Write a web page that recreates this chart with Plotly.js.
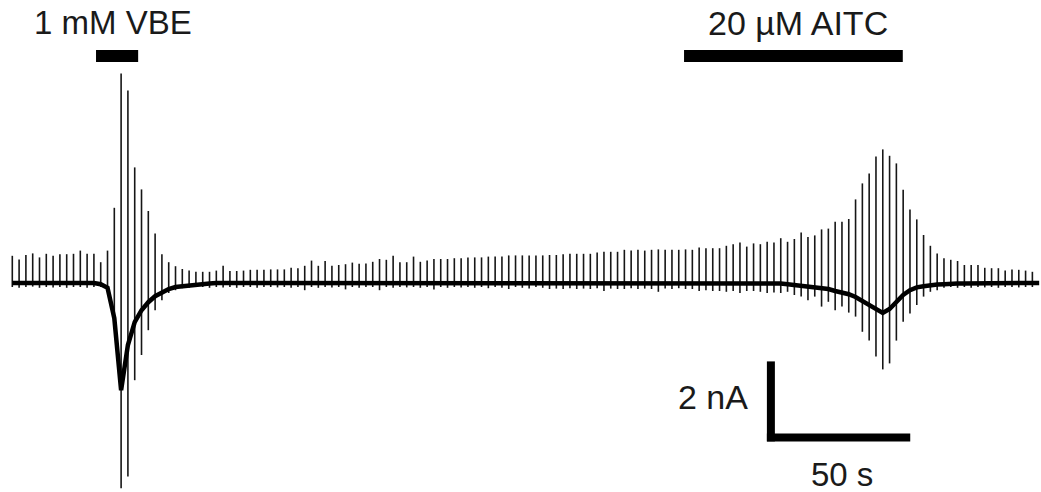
<!DOCTYPE html>
<html>
<head>
<meta charset="utf-8">
<script src="https://cdn.plot.ly/plotly-3.0.1.min.js"></script>
<style>html,body{margin:0;padding:0;background:#fff;}#chart{width:1041px;height:492px;}</style>
</head>
<body>
<div id="chart"></div>
<script>
// Recording: one voltage ramp every SWEEP_INTERVAL seconds (current in nA)
const SWEEP_INTERVAL = 2.372; // s

// Peak outward current of each ramp (nA)
const sweepTop = [
  0.68,0.59,0.70,0.74,0.64,0.73,0.68,0.72,0.72,0.73,
  0.81,0.73,0.73,0.52,0.81,1.88,5.24,4.81,2.89,2.34,
  1.80,1.24,0.72,0.52,0.42,0.35,0.31,0.28,0.28,0.28,
  0.31,0.43,0.30,0.30,0.31,0.33,0.33,0.33,0.34,0.34,
  0.34,0.38,0.37,0.43,0.56,0.43,0.55,0.43,0.45,0.47,
  0.51,0.48,0.49,0.53,0.60,0.58,0.68,0.52,0.52,0.66,
  0.53,0.56,0.60,0.60,0.60,0.62,0.62,0.64,0.64,0.64,
  0.66,0.66,0.66,0.69,0.69,0.69,0.69,0.69,0.69,0.70,
  0.70,0.72,0.73,0.73,0.73,0.73,0.76,0.78,0.78,0.78,
  0.83,0.81,0.83,0.81,0.83,0.84,0.83,0.83,0.83,0.84,
  0.83,0.89,0.87,0.87,0.87,0.93,0.97,1.01,0.91,0.99,
  0.97,1.03,1.01,1.12,1.03,1.10,1.26,1.15,1.19,1.34,
  1.36,1.53,1.53,1.60,2.09,2.49,2.74,3.16,3.34,3.18,
  2.99,2.33,1.84,1.59,1.20,0.93,0.74,0.62,0.58,0.55,
  0.45,0.45,0.45,0.38,0.37,0.37,0.31,0.34,0.33,0.31,
  0.28
];

// Peak inward current of each ramp (nA)
const sweepBottom = [
  -0.10,-0.12,-0.10,-0.09,-0.12,-0.10,-0.11,-0.10,-0.12,-0.10,
  -0.10,-0.12,-0.10,-0.10,-0.18,-1.00,-5.13,-4.84,-2.43,-1.80,
  -1.18,-0.68,-0.43,-0.25,-0.18,-0.13,-0.12,-0.10,-0.10,-0.12,
  -0.10,-0.11,-0.10,-0.12,-0.10,-0.10,-0.12,-0.10,-0.10,-0.11,
  -0.10,-0.12,-0.10,-0.18,-0.10,-0.12,-0.10,-0.11,-0.10,-0.16,
  -0.10,-0.12,-0.10,-0.10,-0.18,-0.10,-0.12,-0.10,-0.11,-0.10,
  -0.12,-0.10,-0.16,-0.10,-0.12,-0.10,-0.11,-0.10,-0.12,-0.10,
  -0.13,-0.10,-0.12,-0.15,-0.10,-0.12,-0.14,-0.10,-0.12,-0.15,
  -0.14,-0.15,-0.13,-0.15,-0.14,-0.15,-0.13,-0.20,-0.14,-0.15,
  -0.15,-0.13,-0.15,-0.14,-0.15,-0.22,-0.14,-0.15,-0.13,-0.15,
  -0.15,-0.20,-0.18,-0.20,-0.20,-0.22,-0.20,-0.25,-0.20,-0.20,
  -0.22,-0.25,-0.24,-0.25,-0.22,-0.30,-0.34,-0.43,-0.34,-0.59,
  -0.47,-0.68,-0.59,-0.74,-0.84,-1.22,-1.44,-1.84,-2.16,-2.01,
  -1.44,-0.97,-0.76,-0.55,-0.34,-0.22,-0.18,-0.12,-0.10,-0.12,
  -0.10,-0.12,-0.10,-0.11,-0.10,-0.12,-0.10,-0.10,-0.11,-0.10,
  -0.10
];

// Holding current between ramps (nA)
const holdingCurrent = [
  0,0,0,0,0,0,0,0,0,0,
  0,0,0,-0.03,-0.12,-0.88,-2.68,-1.55,-0.98,-0.68,
  -0.48,-0.33,-0.23,-0.15,-0.10,-0.08,-0.05,-0.03,-0.02,-0.01,
  0,0,0,0,0,0,0,0,0,0,
  0,0,0,0,0,0,0,0,0,0,
  0,0,0,0,0,0,0,0,0,0,
  0,0,0,0,0,0,0,0,0,0,
  0,0,0,0,0,0,0,0,0,0,
  0,0,0,0,0,0,0,0,0,0,
  0,0,0,0,0,0,0,0,0,0,
  0,0,0,0,0,0,0,0,0,0,
  0,0,0,-0.01,-0.03,-0.05,-0.06,-0.09,-0.10,-0.13,
  -0.15,-0.20,-0.24,-0.28,-0.35,-0.45,-0.55,-0.65,-0.75,-0.65,
  -0.48,-0.30,-0.18,-0.11,-0.08,-0.05,-0.04,-0.03,-0.01,-0.01,
  -0.01,-0.01,-0.01,-0.01,-0.01,-0.01,-0.01,-0.01,-0.01,-0.01,
  -0.01,0
];

// Drug applications (s)
const drugLabels = ["1 mM VBE", "20 µM AITC"];
const drugOn  = [29.2, 234.3];
const drugOff = [43.9, 310.6];

// Scale bar
const scaleTimeLabel = "50 s", scaleTime = 50;
const scaleCurrentLabel = "2 nA", scaleCurrent = 2;
const scaleOrigin = [263.2, -3.86];

// ---- build traces ----
const sweepX = [], sweepY = [];
sweepTop.forEach((top, k) => {
  const t = k * SWEEP_INTERVAL;
  sweepX.push(t, t, null);
  sweepY.push(sweepBottom[k], top, null);
});
const holdX = holdingCurrent.map((v, k) => k * SWEEP_INTERVAL);

const traces = [
  {x: sweepX, y: sweepY, mode: 'lines', type: 'scatter',
   line: {color: '#161616', width: 1.6}, hoverinfo: 'skip', connectgaps: false},
  {x: holdX, y: holdingCurrent, mode: 'lines', type: 'scatter',
   line: {color: '#000', width: 4.5}, hoverinfo: 'skip'}
];

const pxPerS = 2.867, pxPerNA = 40;
const barY = 5.675;
const shapes = [];
drugOn.forEach((on, i) => {
  shapes.push({type: 'line', xref: 'x', yref: 'y', x0: on, x1: drugOff[i], y0: barY, y1: barY,
               line: {color: '#000', width: 12}});
});
const [sx, sy] = scaleOrigin;
shapes.push({type: 'line', xref: 'x', yref: 'y', x0: sx, x1: sx + scaleTime, y0: sy, y1: sy,
             line: {color: '#000', width: 8}});
const vx = sx + 4 / pxPerS;
shapes.push({type: 'line', xref: 'x', yref: 'y', x0: vx, x1: vx, y0: sy - 4 / pxPerNA,
             y1: sy - 4 / pxPerNA + scaleCurrent, line: {color: '#000', width: 8}});

const font = {family: 'Liberation Sans, Arial, sans-serif', size: 33, color: '#1a1a1a'};
const annotations = [
  {text: drugLabels[0], xref: 'x', yref: 'paper', x: (drugOn[0] + drugOff[0]) / 2 - 1.5, y: 0.954,
   xanchor: 'center', yanchor: 'middle', showarrow: false, font: font},
  {text: drugLabels[1], xref: 'x', yref: 'paper', x: 274.0, y: 0.953,
   xanchor: 'center', yanchor: 'middle', showarrow: false, font: Object.assign({}, font, {size: 34})},
  {text: scaleCurrentLabel, xref: 'x', yref: 'y', x: sx - 6, y: sy + 1.0,
   xanchor: 'right', yanchor: 'middle', showarrow: false, font: Object.assign({}, font, {size: 34})},
  {text: scaleTimeLabel, xref: 'x', yref: 'y', x: sx + scaleTime / 2 + 1.3, y: sy - 0.92,
   xanchor: 'center', yanchor: 'middle', showarrow: false, font: font}
];

const layout = {
  width: 1041, height: 492,
  margin: {l: 0, r: 0, t: 0, b: 0},
  paper_bgcolor: '#fff', plot_bgcolor: '#fff',
  showlegend: false,
  xaxis: {visible: false, range: [-12.3 / pxPerS, (1041 - 12.3) / pxPerS], fixedrange: true},
  yaxis: {visible: false, range: [-(492 - 283) / pxPerNA, 283 / pxPerNA], fixedrange: true},
  shapes: shapes,
  annotations: annotations
};

Plotly.newPlot('chart', traces, layout, {displayModeBar: false, staticPlot: true});
</script>
</body>
</html>
